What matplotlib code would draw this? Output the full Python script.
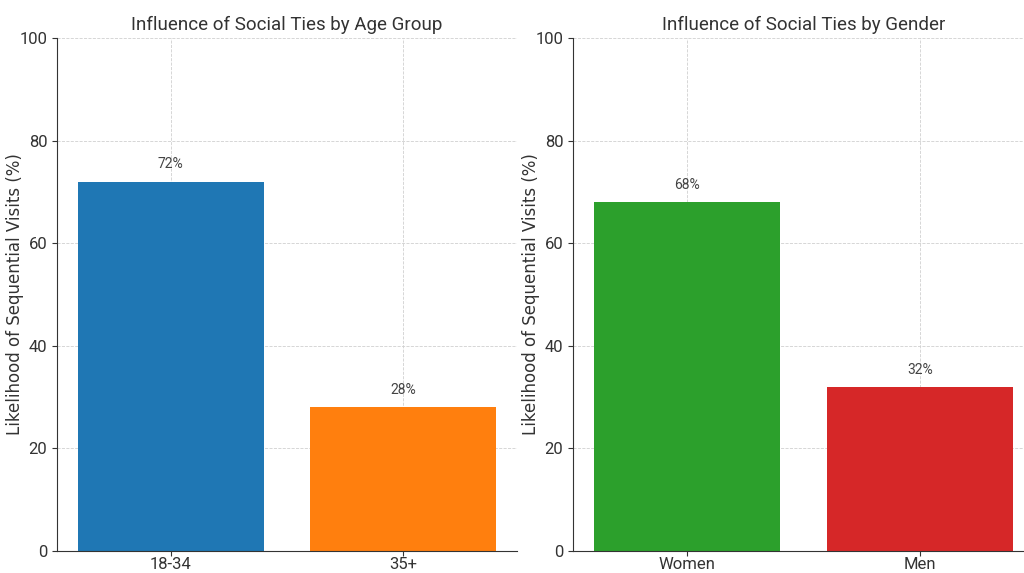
import matplotlib
matplotlib.use('Agg')
import matplotlib.pyplot as plt

age_groups = ['18-34', '35+']
age_values = [72, 28]
age_colors = ['#1f77b4', '#ff7f0e']

genders = ['Women', 'Men']
gender_values = [68, 32]
gender_colors = ['#2ca02c', '#d62728']

narrow = ['Roboto', 'DejaVu Sans']
text_col = '#333333'

fig = plt.figure(figsize=(10.24, 5.73), dpi=100)
ax1 = fig.add_axes([57 / 1024, 22 / 573, 460 / 1024, 513 / 573])
ax2 = fig.add_axes([573 / 1024, 22 / 573, 461 / 1024, 513 / 573])


def draw(ax, cats, vals, cols, title):
    bars = ax.bar(cats, vals, color=cols, width=0.8, zorder=2)
    ax.set_ylim(0, 100)
    ax.set_title(title, family=narrow, fontsize=13.5, color=text_col, pad=6)
    ax.set_ylabel('Likelihood of Sequential Visits (%)', fontsize=12, color=text_col)
    ax.yaxis.set_label_coords(-0.072, 0.5)
    ax.grid(True, linestyle='--', linewidth=0.6, color='#d0d0d0', zorder=0)
    ax.set_axisbelow(True)
    for s in ['top', 'right']:
        ax.spines[s].set_visible(False)
    for s in ['left', 'bottom']:
        ax.spines[s].set_color(text_col)
    ax.tick_params(colors=text_col, labelsize=12)
    ax.tick_params(axis='x', pad=1)
    for lab in ax.get_xticklabels() + ax.get_yticklabels():
        lab.set_family(narrow)
    for b, v in zip(bars, vals):
        ax.text(b.get_x() + b.get_width() / 2, v + 2, f'{v}%', ha='center', va='bottom',
                family=narrow, fontsize=10, color='#444444')


draw(ax1, age_groups, age_values, age_colors, 'Influence of Social Ties by Age Group')
draw(ax2, genders, gender_values, gender_colors, 'Influence of Social Ties by Gender')

fig.savefig('out.png', dpi=100)
